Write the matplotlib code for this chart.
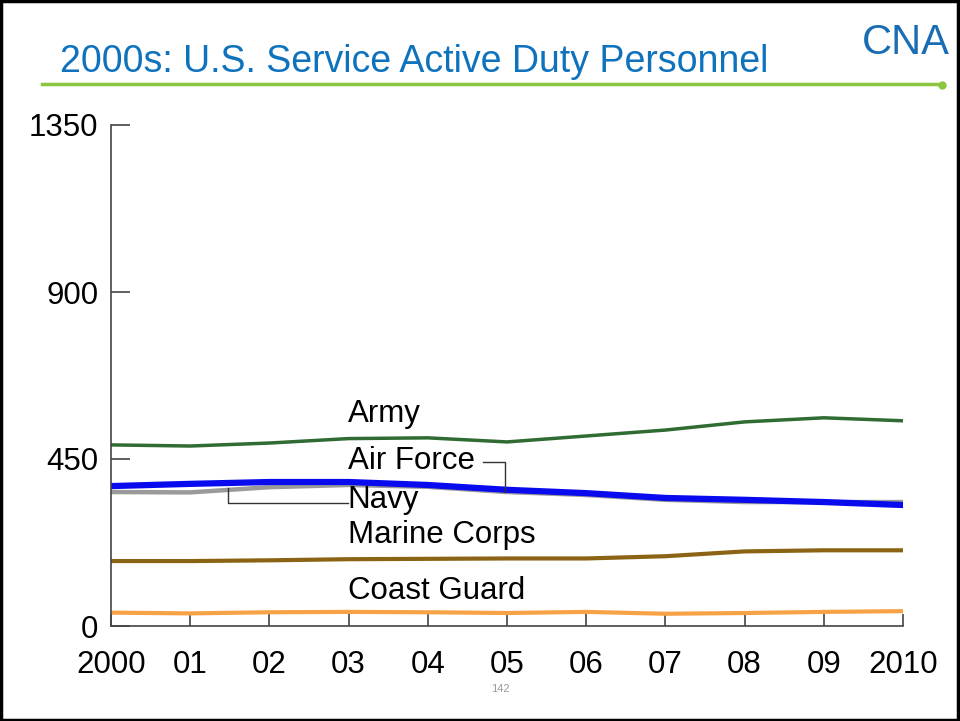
import matplotlib.pyplot as plt
from matplotlib.patches import Rectangle
from matplotlib.lines import Line2D

plt.rcParams['font.family'] = ['Liberation Sans', 'DejaVu Sans']

years = [2000, 2001, 2002, 2003, 2004, 2005, 2006, 2007, 2008, 2009, 2010]
army = [488, 485, 493, 505, 507, 496, 512, 528, 550, 561, 553]
air_force = [377, 383, 388, 388, 380, 367, 358, 345, 340, 334, 326]
navy = [361, 360, 374, 380, 375, 361, 353, 340, 334, 334, 334]
marines = [175, 175, 177, 180, 181, 182, 182, 188, 201, 204, 204]
coast_guard = [36, 34, 37, 38, 37, 35, 38, 33, 35, 38, 40]

xlabels = ['2000', '01', '02', '03', '04', '05', '06', '07', '08', '09', '2010']
yticks = [0, 450, 900, 1350]

fig = plt.figure(figsize=(9.6, 7.21), dpi=100)
ax = fig.add_axes([111/960, 1-626/721, (903-111)/960, (626-125)/721])

ax.plot(years, army, color='#2f6b32', lw=2.5)
ax.plot(years, navy, color='#9a9a9a', lw=3.2)
ax.plot(years, air_force, color='#0a0aee', lw=4.5)
ax.plot(years, marines, color='#8a6414', lw=3)
ax.plot(years, coast_guard, color='#f5a346', lw=3)

ax.set_xlim(2000, 2010)
ax.set_ylim(0, 1350)
ax.set_xticks(years)
ax.set_xticklabels(xlabels)
ax.set_yticks(yticks)
ax.spines['top'].set_visible(False)
ax.spines['right'].set_visible(False)
for s in ['left', 'bottom']:
    ax.spines[s].set_color('#444444')
    ax.spines[s].set_linewidth(1.2)
ax.tick_params(axis='y', direction='in', length=14, width=1.2, color='#444444',
               labelsize=22.5, pad=9)
ax.tick_params(axis='x', direction='in', length=9, width=1.2, color='#444444',
               labelsize=22.5, pad=17)

lab = dict(fontsize=22.5, color='black', ha='left', va='center')
x0 = 2002.99
ax.text(x0, 571, 'Army', **lab)
ax.text(x0, 445, 'Air Force', **lab)
ax.text(x0, 340, 'Navy', **lab)
ax.text(x0, 245, 'Marine Corps', **lab)
ax.text(x0, 94, 'Coast Guard', **lab)
# leader lines
ax.plot([2004.70, 2004.97, 2004.97], [442, 442, 361], color='#333333', lw=1)
ax.plot([x0, 2001.48, 2001.48], [331, 331, 372], color='#333333', lw=1)

# title area
fig.text(60/960, 1-62/721, '2000s: U.S. Service Active Duty Personnel',
         fontsize=27, color='#0f72bd', ha='left', va='center')
fig.add_artist(Line2D([42/960, 938/960], [1-84/721, 1-84/721],
                      color='#8cc63f', lw=2.5))
fig.add_artist(Line2D([942/960], [1-85/721], marker='o', color='#8cc63f',
                      markersize=5))
fig.text(862/960, 1-43/721, 'CNA', fontsize=30, color='#1a6db3',
         ha='left', va='center')
fig.text(500/960, 1-689/721, '142', fontsize=8, color='#999999',
         ha='center', va='center')

fig.add_artist(Rectangle((0.001, 0.002), 0.997, 0.996, transform=fig.transFigure,
                         fill=False, edgecolor='black', lw=2.5))

fig.savefig('out.png', dpi=100)
